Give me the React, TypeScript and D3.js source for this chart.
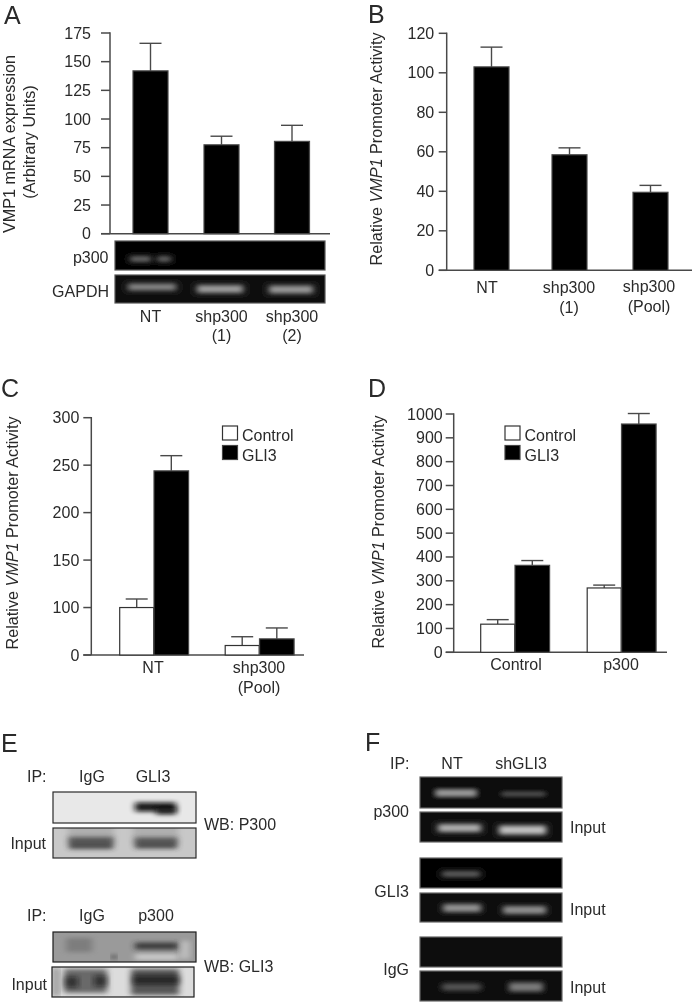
import React from "react";
import * as d3 from "d3";

const FONT = "'Liberation Sans', Arial, sans-serif";
const INK = "#2a2a2a";
const LINE = "#4a4a4a";

// ---- data ----
const aCategories = ["NT", "shp300 (1)", "shp300 (2)"];
const aValues = [142, 77.5, 80.5];
const aErrorTops = [166, 85, 94.5];
const aTicks = [0, 25, 50, 75, 100, 125, 150, 175];

const bCategories = ["NT", "shp300 (1)", "shp300 (Pool)"];
const bValues = [103, 58.5, 39.5];
const bErrorTops = [113, 62, 43];
const bTicks = [0, 20, 40, 60, 80, 100, 120];

const cCategories = ["NT", "shp300 (Pool)"];
const cControl = [100, 20];
const cControlTops = [109, 38.5];
const cGli3 = [244, 34];
const cGli3Tops = [260, 57];
const cTicks = [0, 100, 150, 200, 250, 300];

const dCategories = ["Control", "p300"];
const dControl = [118, 270];
const dControlTops = [137, 282];
const dGli3 = [365, 958];
const dGli3Tops = [385, 1002];
const dTicks = [0, 100, 200, 300, 400, 500, 600, 700, 800, 900, 1000];

type Band = { x0: number; x1: number; y: number; h: number; c: string; o: number };
const b = (x0: number, x1: number, y: number, h: number, c: string, o: number): Band => ({ x0, x1, y, h, c, o });
type Gel = { x: number; y: number; w: number; h: number; bg: string; edge: string; bands: Band[] };
const W = "#f4f4f4";
const K = "#0a0a0a";

const aGels: Gel[] = [
  { x: 115, y: 241, w: 210, h: 29, bg: "#040404", edge: "#555", bands: [b(130, 151, 259, 6, W, 0.42), b(157, 171, 259, 6, W, 0.4)] },
  { x: 115, y: 275, w: 210, h: 28, bg: "#111", edge: "#555", bands: [b(128, 176, 287, 7, W, 0.52), b(197, 243, 289, 8, W, 0.62), b(269, 313, 289.5, 8, W, 0.6)] },
];
const eGels: Gel[] = [
  { x: 53, y: 792, w: 143, h: 31, bg: "#e8e8e8", edge: "#2a2a2a", bands: [b(135, 176, 807, 9, K, 0.95), b(156, 176, 811, 7, K, 0.8)] },
  { x: 53, y: 828, w: 143, h: 30, bg: "#c8c8c8", edge: "#2a2a2a", bands: [b(69, 113, 843, 12, "#333", 0.85), b(135, 177, 843, 11, "#333", 0.85), b(68, 114, 835, 20, "#777", 0.3), b(133, 178, 835, 20, "#777", 0.3)] },
  { x: 53, y: 932, w: 143, h: 30, bg: "#9a9a9a", edge: "#1c1c1c", bands: [b(135, 178, 946, 7, "#2c2c2c", 0.85), b(66, 92, 945, 14, "#6a6a6a", 0.6), b(135, 178, 957, 5, "#e4e4e4", 0.75), b(180, 190, 950, 18, "#e0e0e0", 0.5), b(112, 116, 957, 3, "#111", 0.9)] },
  { x: 52, y: 967, w: 142, h: 30, bg: "#dcdcdc", edge: "#1c1c1c", bands: [b(64, 107, 981, 24, "#555", 0.85), b(65, 78, 982, 11, K, 0.6), b(94, 107, 981, 11, K, 0.6), b(131, 179, 982, 26, "#4a4a4a", 0.9), b(133, 179, 980, 9, K, 0.65), b(53, 59, 982, 28, "#444", 0.5)] },
];
const fGels: Gel[] = [
  { x: 420, y: 777, w: 142, h: 31, bg: "#070707", edge: "#666", bands: [b(435, 477, 793, 8, W, 0.62), b(501, 546, 794, 5, W, 0.34)] },
  { x: 420, y: 812, w: 142, h: 30, bg: "#111", edge: "#666", bands: [b(438, 481, 828, 8, W, 0.7), b(499, 546, 830, 9, W, 0.78)] },
  { x: 420, y: 858, w: 142, h: 30, bg: "#050505", edge: "#666", bands: [b(442, 480, 874, 6, W, 0.38)] },
  { x: 420, y: 893, w: 142, h: 29, bg: "#0f0f0f", edge: "#666", bands: [b(443, 481, 908, 8, W, 0.58), b(503, 546, 910, 8, W, 0.56)] },
  { x: 420, y: 937, w: 142, h: 30, bg: "#0b0b0b", edge: "#666", bands: [] },
  { x: 420, y: 971, w: 142, h: 30, bg: "#0d0d0d", edge: "#666", bands: [b(442, 481, 987, 7, W, 0.32), b(509, 543, 987, 9, W, 0.48)] },
];

// ---- small drawing pieces ----
const Label = ({ x, y, t, anchor = "start", size = 16, fill = INK }: any) => (
  <text x={x} y={y} textAnchor={anchor} fontSize={size} fill={fill} fontFamily={FONT}>{t}</text>
);

const VLabel = ({ x, y, children, size = 16.2 }: any) => (
  <text transform={`translate(${x},${y}) rotate(-90)`} textAnchor="middle" fontSize={size} fill={INK} fontFamily={FONT}>{children}</text>
);

const YAxis = ({ scale, ticks, x, x2, tick = 8, gap = 4, size = 16 }: any) => (
  <g>
    <line x1={x} x2={x} y1={scale(ticks[ticks.length - 1]) - 0.7} y2={scale(0)} stroke={LINE} strokeWidth={1.5} />
    <line x1={x - tick} x2={x2} y1={scale(0)} y2={scale(0)} stroke={LINE} strokeWidth={1.5} />
    {ticks.map((t: number) => (
      <g key={t}>
        <line x1={x - tick} x2={x} y1={scale(t)} y2={scale(t)} stroke={LINE} strokeWidth={1.5} />
        <Label x={x - tick - gap} y={scale(t) + 5.5} t={String(t)} anchor="end" size={size} />
      </g>
    ))}
  </g>
);

const Bar = ({ cx, w, v, top, y, fill }: any) => (
  <g>
    <line x1={cx} x2={cx} y1={y(top)} y2={y(v)} stroke={LINE} strokeWidth={1.4} />
    <line x1={cx - 11} x2={cx + 11} y1={y(top)} y2={y(top)} stroke={LINE} strokeWidth={1.4} />
    <rect x={cx - w / 2} y={y(v)} width={w} height={y(0) - y(v)} fill={fill} stroke={fill === "#fff" ? "#333" : "#4a4a4a"} strokeWidth={1.2} />
  </g>
);

const Legend = ({ x, tx }: any) => (
  <g>
    <rect x={x} y={426} width={15} height={14} fill="#fff" stroke="#333" strokeWidth={1.2} />
    <rect x={x} y={445.5} width={15} height={14} fill="#000" stroke="#444" strokeWidth={1.2} />
    <Label x={tx} y={440.5} t="Control" />
    <Label x={tx} y={460.5} t="GLI3" />
  </g>
);

const GelView = ({ g }: { g: Gel }) => {
  const id = `clip-${g.x}-${g.y}`;
  return (
    <g>
      <clipPath id={id}><rect x={g.x} y={g.y} width={g.w} height={g.h} /></clipPath>
      <rect x={g.x} y={g.y} width={g.w} height={g.h} fill={g.bg} />
      <g clipPath={`url(#${id})`}>
        {g.bands.map((k, i) => (
          <rect key={i} x={k.x0} y={k.y - k.h / 2} width={k.x1 - k.x0} height={k.h} fill={k.c} opacity={k.o} filter="url(#band)" />
        ))}
      </g>
      <rect x={g.x} y={g.y} width={g.w} height={g.h} fill="none" stroke={g.edge} strokeWidth={1.2} />
    </g>
  );
};

export default function App() {
  // panel A
  const ay = d3.scaleLinear().domain([0, 175]).range([233.7, 33]);
  const ax = d3.scaleOrdinal<string, number>().domain(aCategories).range([150.5, 221.5, 292]);
  // panel B
  const by = d3.scaleLinear().domain([0, 120]).range([270.3, 33.3]);
  const bx = d3.scaleOrdinal<string, number>().domain(bCategories).range([491.5, 569.5, 650.5]);
  // panel C: the printed axis steps 0, 100, 150, ... at equal distances
  const cy = d3.scaleLinear().domain(cTicks).range(d3.range(6).map((i) => 655 - (i * (655 - 417.7)) / 5));
  const cx = d3.scaleOrdinal<string, number>().domain(cCategories).range([154, 259.5]);
  // panel D
  const dy = d3.scaleLinear().domain([0, 1000]).range([652.3, 414]);
  const dx = d3.scaleOrdinal<string, number>().domain(dCategories).range([515, 621.5]);

  return (
    <svg width={693} height={1003} viewBox="0 0 693 1003" style={{ position: "absolute", left: 0, top: 0, background: "#fff" }}>
      <defs>
        <filter id="band" x="-30%" y="-200%" width="160%" height="500%"><feGaussianBlur stdDeviation="3.2 2.1" /></filter>
        <filter id="soft" x="0" y="0" width="100%" height="100%"><feGaussianBlur stdDeviation="0.55" /></filter>
      </defs>
      <g filter="url(#soft)">
        <rect width={693} height={1003} fill="#fff" />

        {/* A */}
        <Label x={4} y={23.5} t="A" size={25} />
        <VLabel x={15} y={144}>VMP1 mRNA expression</VLabel>
        <VLabel x={35} y={142}>(Arbitrary Units)</VLabel>
        <YAxis scale={ay} ticks={aTicks} x={110} x2={330} tick={9} gap={10} />
        {aCategories.map((c, i) => <Bar key={c} cx={ax(c)} w={35} v={aValues[i]} top={aErrorTops[i]} y={ay} fill="#000" />)}
        {aGels.map((g, i) => <GelView key={i} g={g} />)}
        <Label x={108.5} y={263} t="p300" anchor="end" />
        <Label x={109} y={297} t="GAPDH" anchor="end" />
        <Label x={ax(aCategories[0])} y={322} t="NT" anchor="middle" />
        <Label x={ax(aCategories[1])} y={322} t="shp300" anchor="middle" />
        <Label x={ax(aCategories[1])} y={341} t="(1)" anchor="middle" />
        <Label x={ax(aCategories[2])} y={322} t="shp300" anchor="middle" />
        <Label x={ax(aCategories[2])} y={341} t="(2)" anchor="middle" />

        {/* B */}
        <Label x={368} y={22.5} t="B" size={25} />
        <VLabel x={382} y={149}>Relative <tspan fontStyle="italic">VMP1</tspan> Promoter Activity</VLabel>
        <YAxis scale={by} ticks={bTicks} x={446.7} x2={692} gap={4.5} />
        {bCategories.map((c, i) => <Bar key={c} cx={bx(c)} w={35} v={bValues[i]} top={bErrorTops[i]} y={by} fill="#000" />)}
        <Label x={487} y={293} t="NT" anchor="middle" />
        <Label x={569} y={293} t="shp300" anchor="middle" />
        <Label x={569} y={313} t="(1)" anchor="middle" />
        <Label x={649} y={292} t="shp300" anchor="middle" />
        <Label x={649} y={312} t="(Pool)" anchor="middle" />

        {/* C */}
        <Label x={1} y={397} t="C" size={25} />
        <VLabel x={18} y={533}>Relative <tspan fontStyle="italic">VMP1</tspan> Promoter Activity</VLabel>
        <YAxis scale={cy} ticks={cTicks} x={91.3} x2={304} gap={4} />
        {cCategories.map((c, i) => (
          <g key={c}>
            <Bar cx={cx(c)! - 17.3} w={34} v={cControl[i]} top={cControlTops[i]} y={cy} fill="#fff" />
            <Bar cx={cx(c)! + 17.3} w={34.6} v={cGli3[i]} top={cGli3Tops[i]} y={cy} fill="#000" />
          </g>
        ))}
        <Legend x={222.5} tx={242} />
        <Label x={153} y={673} t="NT" anchor="middle" />
        <Label x={259} y={673} t="shp300" anchor="middle" />
        <Label x={259} y={693} t="(Pool)" anchor="middle" />

        {/* D */}
        <Label x={368} y={397} t="D" size={25} />
        <VLabel x={384} y={532}>Relative <tspan fontStyle="italic">VMP1</tspan> Promoter Activity</VLabel>
        <YAxis scale={dy} ticks={dTicks} x={453.7} x2={667} tick={8} gap={3} />
        {dCategories.map((c, i) => (
          <g key={c}>
            <Bar cx={dx(c)! - 17.3} w={34} v={dControl[i]} top={dControlTops[i]} y={dy} fill="#fff" />
            <Bar cx={dx(c)! + 17.3} w={34.6} v={dGli3[i]} top={dGli3Tops[i]} y={dy} fill="#000" />
          </g>
        ))}
        <Legend x={505} tx={524.5} />
        <Label x={516} y={670} t="Control" anchor="middle" />
        <Label x={621} y={670} t="p300" anchor="middle" />

        {/* E */}
        <Label x={1} y={752} t="E" size={25} />
        <Label x={27} y={782} t="IP:" />
        <Label x={92} y={782} t="IgG" anchor="middle" />
        <Label x={153} y={782} t="GLI3" anchor="middle" />
        {eGels.map((g, i) => <GelView key={i} g={g} />)}
        <Label x={46} y={849} t="Input" anchor="end" />
        <Label x={204} y={830} t="WB: P300" />
        <Label x={27} y={921} t="IP:" />
        <Label x={92} y={921} t="IgG" anchor="middle" />
        <Label x={156} y={921} t="p300" anchor="middle" />
        <Label x={204} y={972} t="WB: GLI3" />
        <Label x={47} y={990} t="Input" anchor="end" />

        {/* F */}
        <Label x={365} y={751} t="F" size={25} />
        <Label x={390} y={769} t="IP:" />
        <Label x={452} y={769} t="NT" anchor="middle" />
        <Label x={521} y={769} t="shGLI3" anchor="middle" />
        {fGels.map((g, i) => <GelView key={i} g={g} />)}
        <Label x={409} y={817} t="p300" anchor="end" />
        <Label x={409} y={897} t="GLI3" anchor="end" />
        <Label x={409} y={975} t="IgG" anchor="end" />
        <Label x={570} y={833} t="Input" />
        <Label x={570} y={915} t="Input" />
        <Label x={570} y={993} t="Input" />
      </g>
    </svg>
  );
}
